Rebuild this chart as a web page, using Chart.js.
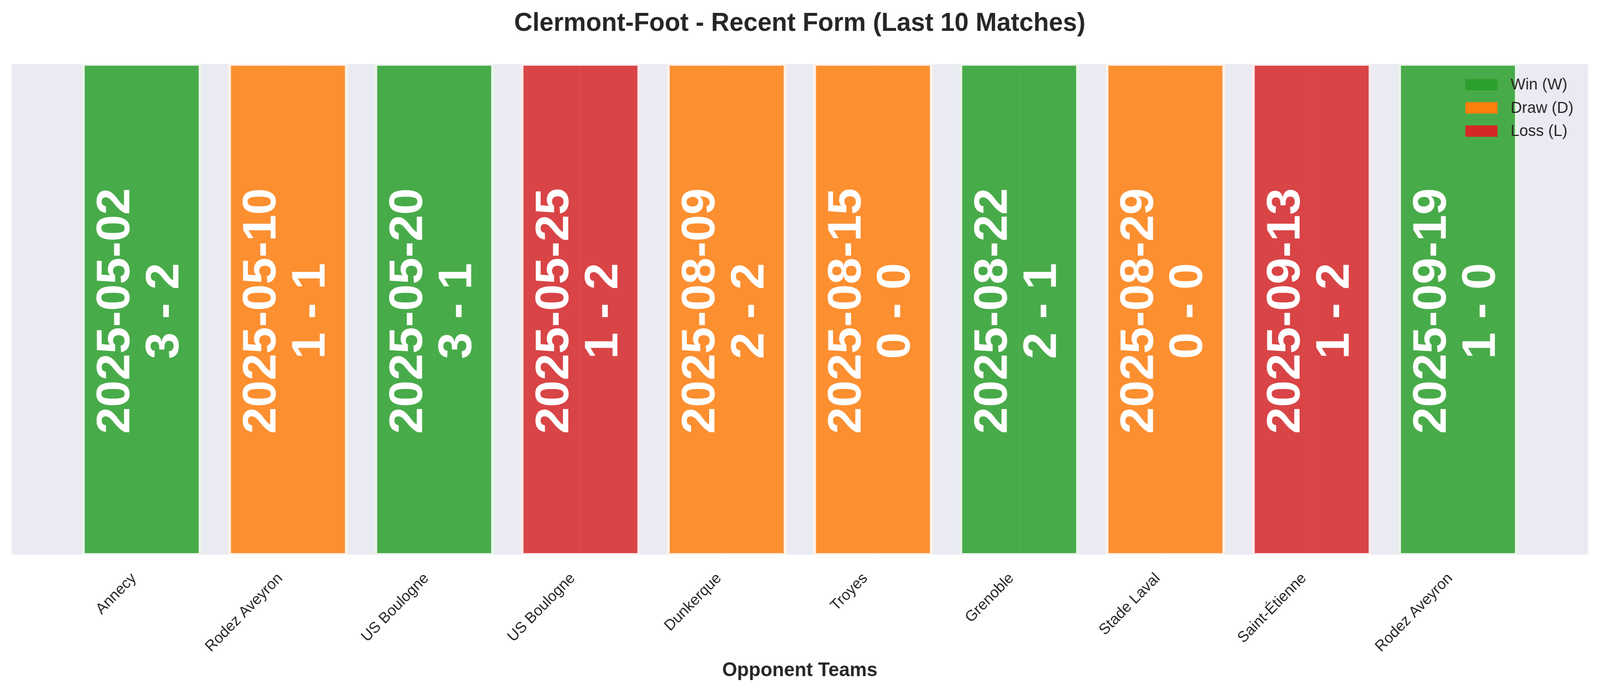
<!DOCTYPE html>
<html>
<head>
<meta charset="utf-8">
<script src="https://cdn.jsdelivr.net/npm/chart.js@4.4.1/dist/chart.umd.min.js"></script>
<style>
  html, body { margin: 0; padding: 0; background: #ffffff; overflow: hidden; }
  #c { display: block; }
</style>
</head>
<body>
<canvas id="c" width="4170" height="1769"></canvas>
<script>
// ---- data ----
const opponents = ['Annecy', 'Rodez Aveyron', 'US Boulogne', 'US Boulogne', 'Dunkerque', 'Troyes', 'Grenoble', 'Stade Laval', 'Saint-Étienne', 'Rodez Aveyron'];
const matchDates = ['2025-05-02', '2025-05-10', '2025-05-20', '2025-05-25', '2025-08-09', '2025-08-15', '2025-08-22', '2025-08-29', '2025-09-13', '2025-09-19'];
const scores = ['3 - 2', '1 - 1', '3 - 1', '1 - 2', '2 - 2', '0 - 0', '2 - 1', '0 - 0', '1 - 2', '1 - 0'];
const results = ['W', 'D', 'W', 'L', 'D', 'D', 'W', 'D', 'L', 'W'];
const barValues = [1, 1, 1, 1, 1, 1, 1, 1, 1, 1];
const legendKeys = ['W', 'D', 'L'];
const legendLabels = ['Win (W)', 'Draw (D)', 'Loss (L)'];
const titleText = 'Clermont-Foot - Recent Form (Last 10 Matches)';
const xTitleText = 'Opponent Teams';

// ---- styles ----
const FONT = "'Liberation Sans', Arial, Helvetica, sans-serif";
const solidColors = { W: '#2ca02c', D: '#ff7f0e', L: '#d62728' };
const fillColors = { W: 'rgba(44,160,44,0.85)', D: 'rgba(255,127,14,0.85)', L: 'rgba(214,39,40,0.85)' };
const ringColors = { W: '#EAF4EA', D: '#FCF1E8', L: '#FAEBEB' };
const AXES_BG = '#EAEAF2';
const TEXT_DARK = '#262626';

// fit the 4170x1769 drawing into the actual viewport
const W0 = 4170, H0 = 1769;
const cv = document.getElementById('c');
const vw = window.innerWidth || W0, vh = window.innerHeight || H0;
cv.style.width = vw + 'px';
cv.style.height = vh + 'px';

const bgPlugin = {
  id: 'bgPlugin',
  beforeDraw(chart) {
    const { ctx, chartArea: a } = chart;
    ctx.save();
    ctx.fillStyle = '#ffffff';
    ctx.fillRect(0, 0, chart.width, chart.height);
    ctx.fillStyle = AXES_BG;
    ctx.fillRect(a.left, a.top, a.right - a.left, a.bottom - a.top);
    ctx.restore();
  }
};

const barTextPlugin = {
  id: 'barTextPlugin',
  afterDatasetsDraw(chart) {
    const { ctx } = chart;
    const meta = chart.getDatasetMeta(0);
    const yScale = chart.scales.y;
    const fs = 123;
    ctx.save();
    ctx.fillStyle = '#ffffff';
    ctx.font = 'bold ' + fs + 'px ' + FONT;
    ctx.textAlign = 'center';
    ctx.textBaseline = 'alphabetic';
    meta.data.forEach((el, i) => {
      const cx = el.x;
      const cy = yScale.getPixelForValue(0.5) + 4;
      ctx.save();
      ctx.translate(cx, cy);
      ctx.rotate(-Math.PI / 2);
      ctx.fillText(matchDates[i], 0, -76 + 0.358 * fs);
      ctx.fillText(scores[i], 0, 52 + 0.358 * fs);
      ctx.restore();
    });
    ctx.restore();
  }
};

const legendPlugin = {
  id: 'legendPlugin',
  afterDraw(chart) {
    const { ctx, chartArea: a } = chart;
    const boxW = 84, boxH = 29, rowGap = 59.5;
    const boxX = a.right - 320;
    const top0 = a.top + 38;
    ctx.save();
    ctx.font = '41px ' + FONT;
    ctx.textBaseline = 'middle';
    ctx.textAlign = 'left';
    legendKeys.forEach((k, i) => {
      const y = top0 + i * rowGap;
      ctx.fillStyle = solidColors[k];
      ctx.fillRect(boxX, y, boxW, boxH);
      ctx.fillStyle = TEXT_DARK;
      ctx.fillText(legendLabels[i], boxX + 118, y + boxH / 2 + 1);
    });
    ctx.restore();
  }
};

new Chart(cv.getContext('2d'), {
  type: 'bar',
  data: {
    datasets: [{
      data: barValues.map((v, i) => ({ x: i, y: v })),
      backgroundColor: results.map(r => fillColors[r]),
      borderColor: results.map(r => ringColors[r]),
      borderWidth: { left: 8, right: 8, top: 4, bottom: 4 },
      borderSkipped: false,
      barPercentage: 0.821,
      categoryPercentage: 1.0
    }]
  },
  options: {
    responsive: false,
    devicePixelRatio: 1,
    animation: false,
    layout: { padding: { left: 30, right: 31, top: 0, bottom: 0 } },
    plugins: {
      legend: { display: false },
      tooltip: { enabled: false },
      title: {
        display: true,
        text: titleText,
        color: TEXT_DARK,
        font: { family: FONT, size: 66, weight: 'bold' },
        padding: { top: 21, bottom: 64 }
      }
    },
    scales: {
      x: {
        type: 'linear',
        min: -0.89,
        max: 9.89,
        offset: false,
        afterBuildTicks(scale) {
          scale.ticks = opponents.map((_, i) => ({ value: i }));
        },
        afterFit(scale) {
          scale.height = 349;
        },
        ticks: {
          autoSkip: false,
          minRotation: 45,
          maxRotation: 45,
          padding: 38,
          labelOffset: -20,
          color: TEXT_DARK,
          font: { family: FONT, size: 39 },
          callback: (v) => opponents[Math.round(v)]
        },
        grid: { color: '#ffffff', lineWidth: 4, drawTicks: false, offset: false },
        border: { display: false },
        title: {
          display: true,
          text: xTitleText,
          color: TEXT_DARK,
          font: { family: FONT, size: 50, weight: 'bold' },
          padding: { top: 0, bottom: 22 }
        }
      },
      y: {
        display: false,
        min: 0,
        max: 1
      }
    }
  },
  plugins: [bgPlugin, barTextPlugin, legendPlugin]
});
</script>
</body>
</html>
